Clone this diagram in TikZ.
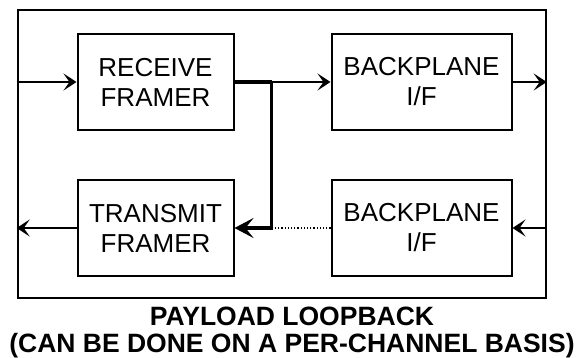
\documentclass[tikz,border=0pt]{standalone}
\usepackage{fontspec}
\setmainfont{Liberation Sans}
\usetikzlibrary{arrows.meta, positioning}

\begin{document}
\begin{tikzpicture}[
    x=1pt, y=-1pt,
    >={Stealth[length=13pt, width=17pt, inset=6pt]},
    block/.style={draw, line width=2pt, minimum width=156pt, minimum height=96pt,
                  inner sep=0pt, align=center, font=\fontsize{26}{30}\selectfont},
    wideblock/.style={block, minimum width=180pt},
    sigline/.style={->, line width=1.9pt},
    loopline/.style={line width=3.4pt},
    idleline/.style={dotted, line width=1.2pt},
    caption/.style={font=\bfseries\fontsize{26.5}{27}\selectfont, align=center, inner sep=0pt},
]

% ── Page: 578 x 358 ──
\useasboundingbox (0,0) rectangle (578,358);

% ── Outer device border ──
\node[draw, line width=2pt, minimum width=528pt, minimum height=288pt] (frame) at (281.7,154) {};

% ── Blocks ──
\node[block] (rx) at (155.5,82) {RECEIVE\\FRAMER};
\node[block, below=48pt of rx] (tx) {TRANSMIT\\FRAMER};
\node[wideblock, right=96pt of rx] (bpa) {BACKPLANE\\I/F};
\node[wideblock, right=96pt of tx] (bpb) {BACKPLANE\\I/F};

% ── Normal data path ──
\draw[sigline] (frame.west |- rx.west) -- (rx.west);
\draw[sigline] (bpa.east) -- (frame.east |- bpa.east);
\draw[sigline] (frame.east |- bpb.east) -- (bpb.east);
\draw[sigline] (tx.west) -- (frame.west |- tx.west);

% ── Payload loopback ──
\coordinate[right=37pt of rx.east] (tap);
\draw[loopline] (rx.east) -- (tap);
\draw[sigline] (tap) -- (bpa.west);
\draw[loopline, ->, >={Stealth[length=19pt, width=20pt, inset=8pt]}]
    (tap) -- (tap |- tx.east) -- (tx.east);
\draw[idleline] (bpb.west) -- (tap |- bpb.west);

% ── Caption ──
\node[caption, anchor=north] (title) at (292,307)
    {PAYLOAD LOOPBACK\\(CAN BE DONE ON A PER-CHANNEL BASIS)};

\end{tikzpicture}
\end{document}
